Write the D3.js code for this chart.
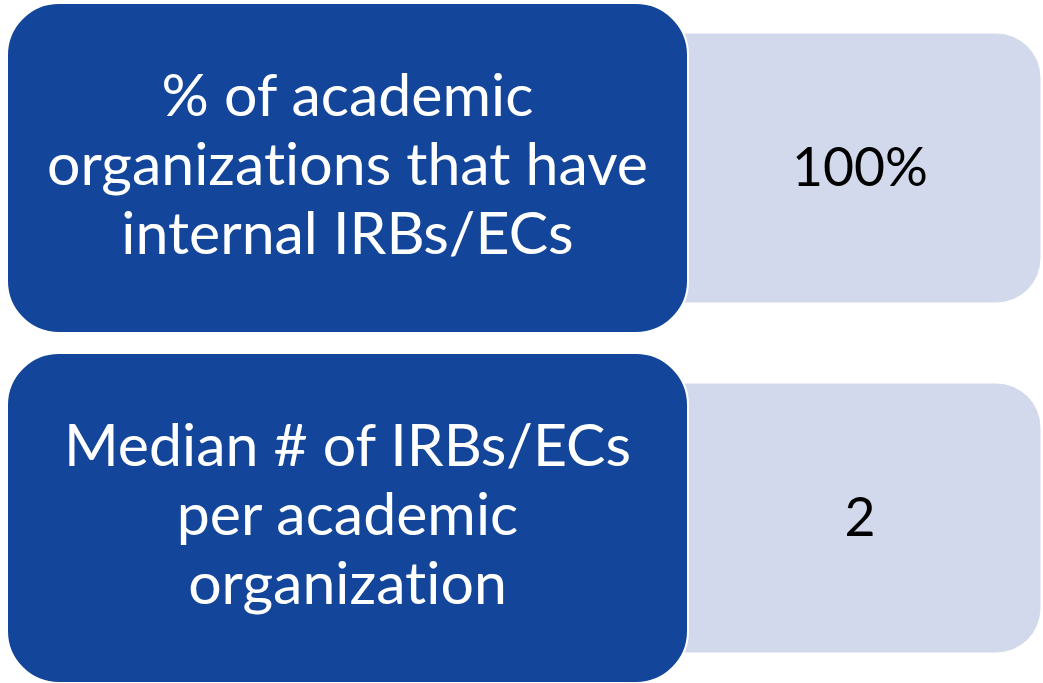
<!DOCTYPE html>
<html>
<head>
<meta charset="utf-8">
<script src="https://cdn.jsdelivr.net/npm/d3@7"></script>
<style>
  html, body { margin: 0; padding: 0; background: #ffffff; }
  svg { display: block; }
  text { font-family: Lato, "Open Sans", "Noto Sans", sans-serif; font-variant-ligatures: none; font-feature-settings: "liga" 0, "clig" 0; }
</style>
</head>
<body>
<div id="chart"></div>
<script>
// ---- data ----
const rows = ["internal", "median"];
const labelLines = [
  ["% of academic", "organizations that have", "internal IRBs/ECs"],
  ["Median # of IRBs/ECs", "per academic", "organization"]
];
const values = ["100%", "2"];

// ---- layout ----
const W = 1043, H = 683;
const darkColor = "#13459A", lightColor = "#D3D9EC";
const svg = d3.select("#chart").append("svg").attr("width", W).attr("height", H);

const y = d3.scaleBand().domain(rows).range([3, 683]).paddingInner(20 / 350).paddingOuter(0);
const x = d3.scaleLinear().domain([0, 1]).range([7, 1041]);
const darkRight = 688, lightInset = 30;

function roundedRightPath(x0, y0, x1, y1, r) {
  const p = d3.path();
  p.moveTo(x0, y0);
  p.lineTo(x1 - r, y0);
  p.arcTo(x1, y0, x1, y0 + r, r);
  p.lineTo(x1, y1 - r);
  p.arcTo(x1, y1, x1 - r, y1, r);
  p.lineTo(x0, y1);
  p.closePath();
  return p.toString();
}

const g = svg.selectAll("g.row").data(rows).join("g").attr("class", "row");

// light value boxes (behind)
g.append("path")
  .attr("d", d => roundedRightPath(600, y(d) + lightInset, x(1), y(d) + y.bandwidth() - lightInset, 45))
  .attr("fill", lightColor)
  .attr("stroke", "#ffffff").attr("stroke-width", 1);

// dark label boxes
g.append("rect")
  .attr("x", x(0)).attr("y", d => y(d))
  .attr("width", darkRight - x(0)).attr("height", y.bandwidth())
  .attr("rx", 52).attr("ry", 52)
  .attr("fill", darkColor)
  .attr("stroke", "#ffffff").attr("stroke-width", 2);

// font sizing by measurement
function measure(txt, size) {
  const t = svg.append("text").attr("font-size", size).text(txt);
  const w = t.node().getComputedTextLength();
  t.remove();
  return w;
}
const labelSize = 100 * 601 / measure("organizations that have", 100);
const valueSize = 100 * 136 / measure("100%", 100);
const lineGap = 69;

// labels
g.each(function(d, i) {
  const cy = y(d) + y.bandwidth() / 2;
  const lines = labelLines[i];
  const cx = (x(0) + darkRight) / 2;
  d3.select(this).selectAll("text.label").data(lines).join("text")
    .attr("class", "label")
    .attr("x", cx)
    .attr("y", (l, j) => cy + 17 + (j - (lines.length - 1) / 2) * lineGap)
    .attr("text-anchor", "middle")
    .attr("fill", "#ffffff")
    .attr("font-size", labelSize)
    .text(l => l);
  d3.select(this).append("text")
    .attr("class", "value")
    .attr("x", 860)
    .attr("y", cy + 18)
    .attr("text-anchor", "middle")
    .attr("fill", "#000000")
    .attr("font-size", valueSize)
    .text(values[i]);
});
</script>
</body>
</html>
